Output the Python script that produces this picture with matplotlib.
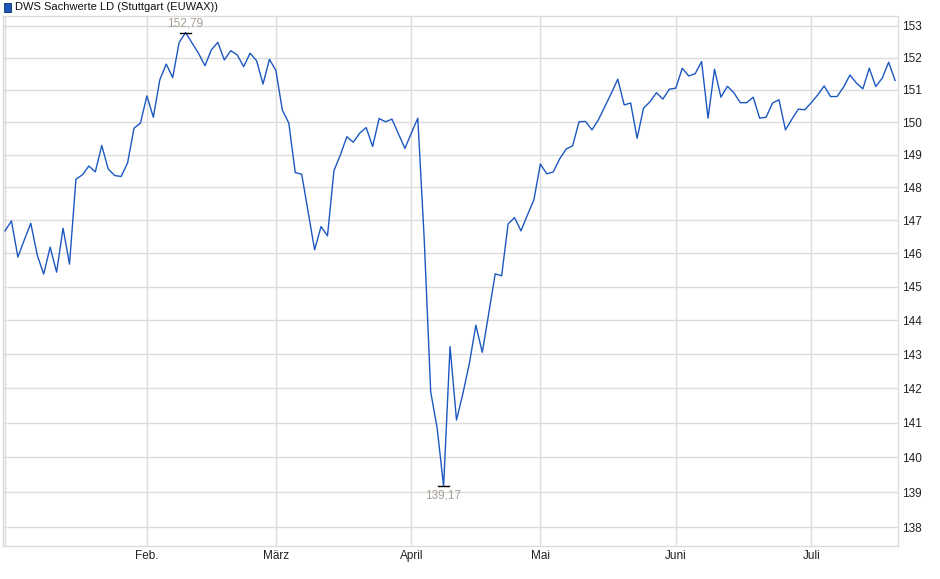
import matplotlib
matplotlib.use('Agg')
import matplotlib.pyplot as plt
from matplotlib.ticker import FixedLocator, NullLocator, NullFormatter
import matplotlib.patches as mpatches

plt.rcParams['font.family'] = ['Liberation Sans', 'DejaVu Sans']

# Daily closing prices (trading days, Jan - Jul)
prices = [
    146.68, 146.98, 145.89, 146.41, 146.91, 145.95, 145.38, 146.19, 145.44, 146.76,
    145.68, 148.25, 148.38, 148.65, 148.47, 149.28, 148.56, 148.36, 148.33, 148.74,
    149.81, 149.97, 150.81, 150.15, 151.31, 151.80, 151.38, 152.48, 152.79, 152.46,
    152.14, 151.75, 152.25, 152.48, 151.93, 152.22, 152.09, 151.72, 152.14, 151.91,
    151.18, 151.95, 151.60, 150.37, 149.97, 148.45, 148.40, 147.26, 146.11, 146.81,
    146.53, 148.51, 148.99, 149.55, 149.38, 149.66, 149.83, 149.25, 150.11, 150.01,
    150.09, 149.64, 149.19, 149.66, 150.12, 146.41, 141.90, 140.85, 139.17, 143.23,
    141.08, 141.86, 142.74, 143.86, 143.06, 144.21, 145.39, 145.33, 146.89, 147.08,
    146.68, 147.16, 147.62, 148.71, 148.41, 148.47, 148.87, 149.17, 149.27, 150.01,
    150.02, 149.76, 150.07, 150.48, 150.89, 151.33, 150.53, 150.59, 149.50, 150.43,
    150.63, 150.91, 150.71, 151.02, 151.05, 151.67, 151.43, 151.50, 151.88, 150.12,
    151.64, 150.77, 151.11, 150.91, 150.60, 150.60, 150.77, 150.12, 150.15, 150.59,
    150.69, 149.76, 150.09, 150.40, 150.38, 150.60, 150.84, 151.12, 150.79, 150.79,
    151.08, 151.46, 151.21, 151.03, 151.67, 151.10, 151.36, 151.86, 151.29,
]

# first trading day of each month (index into prices)
month_pos = [22, 42, 63, 83, 104, 125]
month_labels = ['Feb.', 'März', 'April', 'Mai', 'Juni', 'Juli']

y_ticks = list(range(138, 154))
y_tick_labels = [str(v) for v in y_ticks]

title = 'DWS Sachwerte LD (Stuttgart (EUWAX))'

LINE_COLOR = '#1c58c0'
GRID_COLOR = '#dcdcdc'
NOTE_COLOR = '#a89f93'

fig = plt.figure(figsize=(9.4, 5.79), dpi=100)
ax = fig.add_axes([3 / 940, 33.3 / 579, 895 / 940, 529.7 / 579])

x = list(range(len(prices)))
ax.plot(x, prices, color=LINE_COLOR, lw=1.0, zorder=3)

ax.set_yscale('log')
ax.set_ylim(137.48, 153.31)
ax.set_xlim(-0.31, 138.45)

ax.yaxis.set_major_locator(FixedLocator(y_ticks))
ax.yaxis.set_minor_locator(NullLocator())
ax.yaxis.set_minor_formatter(NullFormatter())
ax.set_yticks(y_ticks)
ax.set_yticklabels(y_tick_labels)
ax.yaxis.tick_right()
ax.tick_params(axis='y', length=0, pad=3, labelsize=8.5, labelcolor='#222222')

ax.set_xticks(month_pos)
ax.set_xticklabels(month_labels)
ax.tick_params(axis='x', length=0, pad=3, labelsize=8.5, labelcolor='#222222')

ax.grid(True, color=GRID_COLOR, lw=1.0, zorder=0)
ax.axvline(0, color=GRID_COLOR, lw=1.0, zorder=0)
for s in ax.spines.values():
    s.set_color(GRID_COLOR)
    s.set_linewidth(1.0)

# max / min markers
i_max = max(range(len(prices)), key=lambda i: prices[i])
i_min = min(range(len(prices)), key=lambda i: prices[i])
for i, va, dy in [(i_max, 'bottom', 2), (i_min, 'top', -2.5)]:
    ax.plot([i - 0.8, i + 0.8], [prices[i], prices[i]], color='black', lw=1.0, zorder=4)
    ax.annotate(f'{prices[i]:.2f}'.replace('.', ','), (i, prices[i]),
                xytext=(0, dy), textcoords='offset points', ha='center', va=va,
                fontsize=8.5, color=NOTE_COLOR)

# legend-like title
fig.patches.append(mpatches.Rectangle((4 / 940, 1 - 12 / 579), 7 / 940, 9 / 579,
                                      transform=fig.transFigure, facecolor=LINE_COLOR,
                                      edgecolor='#0d2d66', lw=0.6))
fig.text(15 / 940, 1 - 7 / 579, title, fontsize=8, color='#111111', va='center', ha='left')

fig.savefig('out.png', dpi=100)
